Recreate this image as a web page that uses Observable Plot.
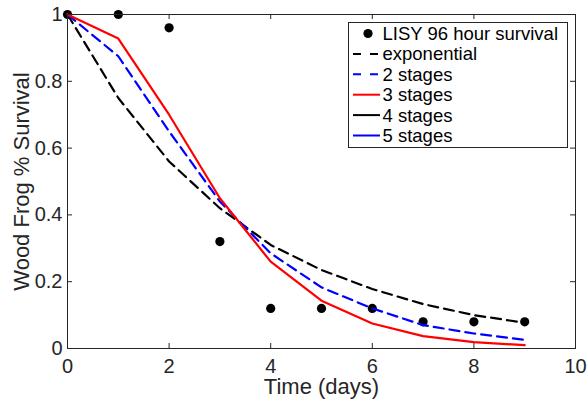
<!DOCTYPE html>
<html><head><meta charset="utf-8">
<script src="https://cdn.jsdelivr.net/npm/d3@7"></script>
<script src="https://cdn.jsdelivr.net/npm/@observablehq/plot@0.6"></script>
<style>
html,body{margin:0;padding:0;background:#fff;}
#chart{position:relative;width:588px;height:399px;}
#chart svg{font-family:"Liberation Sans",Arial,Helvetica,sans-serif;}
</style></head><body><div id="chart"></div>
<script>
const days = [0,1,2,3,4,5,6,7,8,9];
const observed = [1,1,0.96,0.32,0.12,0.12,0.12,0.08,0.08,0.08];
const exponential = [1,0.75,0.56,0.42,0.31,0.235,0.178,0.133,0.10,0.077];
const stages2 = [1,0.875,0.65,0.44,0.285,0.183,0.12,0.07,0.045,0.026];
const stages3 = [1,0.928,0.70,0.45,0.26,0.143,0.075,0.037,0.019,0.01];
const xTicks = [0,2,4,6,8,10];
const yTicks = [0,0.2,0.4,0.6,0.8,1];
const xLabel = "Time (days)";
const yLabel = "Wood Frog % Survival";
const legendLabels = ["LISY 96 hour survival","exponential","2 stages","3 stages","4 stages","5 stages"];
const legendColors = ["#000000","#000000","#0000ff","#ff0000","#000000","#0000ff"];
const legendDashed = [false,true,true,false,false,false];

const rows = arr => days.map((d,i)=>({day:d, v:arr[i]}));
const ink = "#262626";

const W = 588, H = 399, mL = 67, mR = 13, mT = 14, mB = 51;
const plotW = W - mL - mR, plotH = H - mT - mB;

const svg = Plot.plot({
  width: W, height: H,
  marginLeft: mL, marginRight: mR, marginTop: mT, marginBottom: mB,
  x: {domain: [0,10]},
  y: {domain: [0,1]},
  style: {color: ink, background: "#fff", fontFamily: '"Liberation Sans",Arial,Helvetica,sans-serif'},
  marks: [
    Plot.dot(rows(observed), {x:"day", y:"v", r:4.6, fill:"#000", stroke:"none"}),
    Plot.line(rows(exponential), {x:"day", y:"v", stroke:"#000", strokeWidth:2.2, strokeDasharray:"10,6"}),
    Plot.line(rows(stages2), {x:"day", y:"v", stroke:"#0000ff", strokeWidth:2.2, strokeDasharray:"10,6"}),
    Plot.line(rows(stages3), {x:"day", y:"v", stroke:"#ff0000", strokeWidth:2.2}),
    Plot.ruleX(xTicks, {x:d=>d, insetTop: plotH-5, stroke:ink}),
    Plot.ruleX(xTicks, {x:d=>d, insetBottom: plotH-5, stroke:ink}),
    Plot.ruleY(yTicks, {y:d=>d, insetRight: plotW-5, stroke:ink}),
    Plot.ruleY(yTicks, {y:d=>d, insetLeft: plotW-5, stroke:ink}),
    Plot.frame({stroke: ink, strokeWidth: 1}),
    Plot.axisX({ticks: xTicks, tickSize: 0, tickPadding: 10, fontSize: 20, label: null, tickFormat: d=>String(d)}),
    Plot.axisY({ticks: yTicks, tickSize: 0, tickPadding: 5, fontSize: 20, label: null, tickFormat: d=>String(+d.toFixed(1))}),
    Plot.text([xLabel], {text: d=>d, frameAnchor:"bottom", dy: 38, textAnchor:"middle", lineAnchor:"middle", fontSize: 22, fill: ink}),
    Plot.text([yLabel], {text: d=>d, frameAnchor:"left", dx: -46, rotate: -90, textAnchor:"middle", lineAnchor:"middle", fontSize: 22, fill: ink})
  ]
});
document.getElementById("chart").appendChild(svg);

// legend
const lg = d3.select(svg).append("g").attr("transform","translate(348.5,22.5)").attr("text-anchor","start");
lg.append("rect").attr("width",219).attr("height",125).attr("fill","#fff").attr("stroke",ink).attr("stroke-width",1);
legendLabels.forEach((lab,i)=>{
  const y = 11 + i*20.4;
  if (i === 0) {
    lg.append("circle").attr("cx",19.5).attr("cy",y).attr("r",4.6).attr("fill","#000");
  } else {
    lg.append("line").attr("x1",4.5).attr("x2",31.5).attr("y1",y).attr("y2",y)
      .attr("stroke",legendColors[i]).attr("stroke-width",2)
      .attr("stroke-dasharray", legendDashed[i] ? "8,9" : null);
  }
  lg.append("text").attr("x",34).attr("y",y).attr("dy","0.35em")
    .attr("text-anchor","start").attr("font-size",18.5).attr("fill","#000").text(lab);
});
</script></body></html>
